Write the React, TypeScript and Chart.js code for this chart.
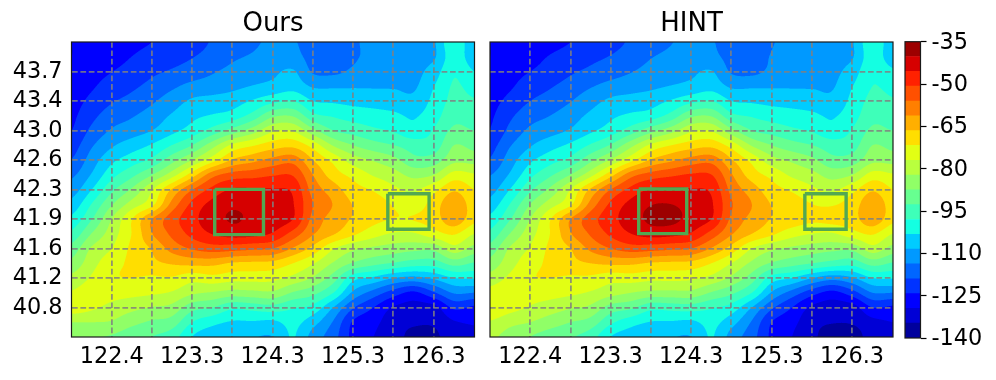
import React, { useEffect, useRef } from "react";
import { Chart, registerables } from "chart.js";

Chart.register(...registerables);

const FONT = "'DejaVu Sans'";

// Contour levels of the colour bar (dB) and the colour of each band between them
const levelsDb = [-140, -134.75, -129.5, -124.25, -119, -113.75, -108.5, -103.25, -98, -92.75, -87.5, -82.25, -77, -71.75, -66.5, -61.25, -56, -50.75, -45.5, -40.25, -35];
const bandColors = ["#00009d", "#0000d6", "#0000ff", "#0033ff", "#0066ff", "#0099ff", "#00ccff", "#14ffe2", "#3effb9", "#67ff90", "#90ff67", "#b9ff3e", "#e2ff14", "#ffde00", "#ffaf00", "#ff7f00", "#ff5000", "#ff2100", "#d60000", "#9d0000"];
const colorbarTicks = [-140, -125, -110, -95, -80, -65, -50, -35];

const xGridValues = [122.36, 122.85, 123.34, 123.83, 124.32, 124.81, 125.3, 125.79, 126.28];
const xGridLabels = ["122.4", "", "123.3", "", "124.3", "", "125.3", "", "126.3"];
const yGridValues = [43.72, 43.36, 43.0, 42.64, 42.28, 41.92, 41.56, 41.2, 40.84];
const yGridLabels = ["43.7", "43.4", "43.0", "42.6", "42.3", "41.9", "41.6", "41.2", "40.8"];

const lonNodes = [121.87, 122.11, 122.36, 122.6, 122.85, 123.09, 123.34, 123.59, 123.83, 124.08, 124.32, 124.57, 124.81, 125.06, 125.3, 125.55, 125.8, 126.04, 126.29, 126.53, 126.78];
const latNodes = [44.08, 43.9, 43.72, 43.54, 43.36, 43.18, 43.0, 42.82, 42.64, 42.46, 42.28, 42.1, 41.92, 41.74, 41.56, 41.38, 41.2, 41.02, 40.84, 40.66, 40.48];

// Field, expressed as a position on the contour-level ladder (0 = -140, 20 = -35)
const oursField = [
  [2.0,2.2,2.45,2.7,3.0,3.3,3.55,4.1,4.5,4.85,5.15,5.05,4.75,4.6,4.9,5.2,5.35,5.5,5.9,7.9,6.0],
  [2.0,2.3,2.7,3.0,3.4,3.65,3.95,4.4,4.85,5.1,5.4,5.3,4.7,4.55,4.9,5.2,5.4,5.6,5.9,7.6,6.3],
  [2.1,2.55,2.98,3.3,3.8,4.1,4.45,4.9,5.25,5.5,5.8,6.1,4.9,4.8,5.15,5.35,5.5,5.65,6.5,7.9,7.0],
  [2.3,2.85,3.45,3.8,4.3,4.8,5.3,5.5,5.75,6.05,6.3,6.6,5.9,5.85,5.9,5.9,5.9,5.85,7.0,8.1,7.6],
  [2.6,3.25,3.9,4.3,4.85,5.5,6.15,6.35,6.55,7.1,7.7,8.0,7.0,6.85,6.7,6.6,6.5,6.3,7.3,8.3,8.1],
  [2.8,3.7,4.5,4.9,5.45,6.1,6.75,7.1,7.45,8.4,9.8,9.9,8.3,7.9,7.6,7.4,7.2,6.9,7.6,8.7,8.5],
  [3.0,4.2,5.1,5.5,6.0,6.7,7.45,8.4,9.4,10.5,11.8,11.9,10.3,9.0,8.6,8.2,7.9,7.3,8.1,9.2,9.0],
  [3.5,4.85,5.85,6.5,7.1,8.0,9.0,10.6,12.2,12.9,13.5,13.7,12.6,10.9,10.0,9.4,9.0,8.55,8.5,10.0,9.7],
  [4.05,5.45,6.75,7.5,8.2,9.6,11.0,12.6,14.1,14.7,15.3,15.6,14.0,12.7,11.5,10.9,10.3,9.3,9.5,10.7,10.6],
  [4.8,6.05,7.65,8.7,9.95,11.5,13.5,15.6,16.4,16.6,16.9,16.9,15.0,13.5,12.7,11.9,11.4,10.7,11.0,12.4,12.1],
  [5.5,6.95,8.75,10.1,11.9,14.05,15.95,17.3,18.1,18.1,18.05,17.8,15.6,14.5,13.4,12.9,12.2,11.85,12.7,13.85,13.0],
  [6.35,8.0,9.9,11.4,12.7,15.3,17.25,18.3,18.8,18.65,18.6,18.05,16.0,14.95,13.95,13.5,12.9,12.4,13.5,14.7,13.5],
  [7.25,8.9,11.0,12.9,15.0,16.5,17.7,18.55,19.1,18.8,18.6,18.0,15.7,14.6,13.9,13.3,12.97,13.05,13.5,14.7,13.3],
  [8.25,10.0,11.5,13.0,14.95,16.2,17.3,18.05,18.4,18.3,17.9,16.6,15.1,14.1,13.2,12.4,11.9,11.9,12.6,13.1,12.0],
  [9.4,11.1,12.0,13.2,14.1,15.35,16.1,16.5,16.4,16.2,16.0,14.9,13.7,12.1,11.2,10.8,10.5,10.3,10.3,11.6,10.6],
  [10.3,11.6,12.6,13.2,13.75,14.1,14.3,14.3,13.9,13.8,13.7,13.0,12.1,10.9,9.9,9.3,8.9,8.5,8.5,9.4,8.9],
  [11.3,12.1,12.85,13.0,12.85,12.9,12.4,12.65,12.4,12.4,12.3,11.7,10.9,9.5,7.4,6.8,6.0,5.7,6.2,7.0,7.1],
  [12.1,12.5,12.4,12.3,12.15,11.9,11.2,10.9,10.6,10.7,10.8,9.9,9.3,8.0,5.8,4.6,3.5,2.8,3.9,5.1,5.0],
  [12.6,12.2,11.7,11.3,10.95,10.7,9.4,9.0,8.2,8.4,8.6,8.1,7.7,6.0,4.1,3.0,1.9,1.6,1.7,3.2,2.8],
  [11.0,11.0,10.9,10.3,9.85,9.55,8.0,7.3,6.9,6.9,6.8,7.3,6.4,4.9,2.9,2.3,1.4,1.15,1.15,1.9,2.1],
  [10.5,10.1,9.9,9.4,9.0,8.5,7.0,6.4,6.2,6.05,6.0,7.05,5.6,4.4,2.7,2.0,1.4,0.7,0.8,1.6,1.8],
];

const hintField = [
  [2.0,2.2,2.45,2.7,3.0,3.35,3.65,4.15,4.6,4.97,5.2,5.05,4.7,4.55,4.95,5.2,5.35,5.5,5.95,7.8,6.2],
  [2.0,2.3,2.7,3.05,3.4,3.75,4.05,4.5,4.95,5.2,5.4,5.25,4.7,4.55,5.05,5.25,5.4,5.6,5.95,7.6,6.3],
  [2.1,2.6,3.0,3.35,3.85,4.2,4.55,4.95,5.3,5.5,5.8,6.05,4.9,4.75,5.2,5.35,5.5,5.7,6.5,7.9,7.2],
  [2.3,2.85,3.5,3.9,4.4,4.9,5.35,5.6,5.8,6.05,6.3,6.6,5.85,5.85,5.9,5.9,5.9,5.9,7.0,8.0,7.7],
  [2.65,3.3,4.0,4.4,4.95,5.6,6.2,6.4,6.6,7.1,7.7,8.0,7.0,6.85,6.7,6.6,6.5,6.3,7.3,8.3,8.1],
  [2.85,3.8,4.6,5.0,5.55,6.2,6.8,7.2,7.5,8.4,9.8,9.9,8.3,7.9,7.6,7.4,7.2,6.9,7.6,8.7,8.5],
  [3.05,4.25,5.2,5.6,6.1,6.8,7.5,8.5,9.6,10.6,11.8,11.9,10.3,9.0,8.6,8.2,7.9,7.3,8.1,9.2,9.0],
  [3.6,4.9,5.9,6.6,7.2,8.1,9.1,10.7,12.2,13.0,13.5,13.7,12.6,10.9,10.0,9.4,9.0,8.5,8.6,10.0,9.7],
  [4.1,5.5,6.8,7.6,8.3,9.7,11.1,12.7,14.1,14.8,15.4,15.6,14.1,12.7,11.4,10.8,10.2,9.3,9.5,10.7,10.6],
  [4.95,6.1,7.7,8.8,10.0,11.6,13.6,15.6,16.4,16.8,17.1,17.0,15.1,13.5,12.7,11.8,11.3,10.6,11.0,12.4,12.1],
  [5.6,7.0,8.8,10.2,12.0,14.1,16.0,17.3,18.1,18.2,18.05,17.8,15.7,14.5,13.4,12.85,12.2,11.8,12.7,13.85,13.0],
  [6.4,8.0,10.0,11.5,12.8,15.3,17.2,18.3,18.95,19.0,18.6,18.1,16.1,15.0,13.95,13.5,13.0,12.9,13.5,14.7,13.5],
  [7.3,8.9,11.0,12.9,15.0,16.5,17.65,18.5,19.2,19.25,18.65,18.0,15.8,14.7,13.95,13.6,13.2,13.4,13.6,14.7,13.3],
  [8.3,10.0,11.6,13.0,14.9,16.1,17.2,18.0,18.4,18.3,17.9,16.6,15.1,14.0,13.2,12.4,12.0,11.9,12.6,13.1,12.0],
  [9.4,11.1,12.1,13.2,14.0,15.2,16.0,16.5,16.4,16.2,16.0,14.9,13.6,12.0,11.2,10.8,10.5,10.3,10.3,11.6,10.6],
  [10.4,11.6,12.6,13.2,13.7,14.0,14.2,14.2,13.9,13.8,13.7,13.0,12.0,10.8,9.9,9.4,9.0,8.6,8.4,9.4,8.9],
  [11.4,12.2,12.9,13.0,12.85,12.8,12.4,12.5,12.3,12.3,12.2,11.7,10.8,9.5,7.6,7.0,6.0,5.4,5.9,7.0,7.1],
  [12.4,12.8,12.5,12.4,12.2,11.9,11.4,11.0,10.7,10.7,10.7,9.9,9.2,8.0,5.9,4.6,3.4,2.7,3.6,5.0,5.0],
  [12.9,12.4,11.9,11.5,11.1,10.8,9.6,9.2,8.3,8.4,8.5,8.1,7.6,6.0,4.2,3.0,1.8,1.5,1.6,3.0,2.8],
  [11.9,11.3,11.0,10.5,10.0,9.6,8.2,7.4,6.95,6.9,6.8,7.3,6.4,4.9,3.0,2.3,1.3,1.05,1.1,1.7,2.0],
  [11.2,10.6,10.0,9.5,9.1,8.5,7.0,6.5,6.2,6.05,6.0,7.05,5.6,4.4,2.8,2.0,1.2,0.5,0.5,1.5,1.8],
];

// Green boxes: [lonWest, lonEast, latNorth, latSouth]
const oursBoxes = [
  [123.615, 124.209, 42.282, 41.729],
  [125.724, 126.227, 42.229, 41.795],
];
const hintBoxes = [
  [123.682, 124.267, 42.286, 41.741],
  [125.706, 126.209, 42.229, 41.795],
];

const hexToRgb = (h: string) => [parseInt(h.slice(1, 3), 16), parseInt(h.slice(3, 5), 16), parseInt(h.slice(5, 7), 16)];
const bandRgb = bandColors.map(hexToRgb);

const dbFromLadder = (p: number) => {
  const i = Math.min(levelsDb.length - 2, Math.floor(p));
  return levelsDb[i] + (p - i) * (levelsDb[i + 1] - levelsDb[i]);
};

function bandOf(v: number) {
  let lo = 0;
  let hi = levelsDb.length - 1;
  while (hi - lo > 1) {
    const m = (lo + hi) >> 1;
    if (v >= levelsDb[m]) lo = m;
    else hi = m;
  }
  return lo;
}

function nodePoints(field: number[][]) {
  const pts: { x: number; y: number; v: number }[] = [];
  latNodes.forEach((lat, r) => lonNodes.forEach((lon, c) => pts.push({ x: lon, y: lat, v: dbFromLadder(field[r][c]) })));
  return pts;
}

const SS = 3;

const catmull = (t: number) => {
  const t2 = t * t;
  const t3 = t2 * t;
  return [
    0.5 * (-t3 + 2 * t2 - t),
    0.5 * (3 * t3 - 5 * t2 + 2),
    0.5 * (-3 * t3 + 4 * t2 + t),
    0.5 * (t3 - t2),
  ];
};

const contourPlugin = {
  id: "contourFill",
  beforeDraw(chart: any) {
    const pts = chart.data.datasets[0].data;
    const nc = lonNodes.length;
    const nr = latNodes.length;
    const { left, top, right, bottom } = chart.chartArea;
    const x0 = Math.floor(left);
    const y0 = Math.floor(top);
    const w = Math.ceil(right) - x0;
    const h = Math.ceil(bottom) - y0;
    const sx = chart.scales.x;
    const sy = chart.scales.y;
    const clampInt = (i: number, n: number) => Math.max(0, Math.min(n - 1, i));
    const cols: { idx: number[]; wt: number[] }[] = [];
    for (let i = 0; i < w * SS; i++) {
      const lon = sx.getValueForPixel(x0 + (i + 0.5) / SS);
      let c = 0;
      while (c < nc - 2 && lon > lonNodes[c + 1]) c++;
      const f = Math.max(0, Math.min(1, (lon - lonNodes[c]) / (lonNodes[c + 1] - lonNodes[c])));
      cols.push({ idx: [clampInt(c - 1, nc), c, c + 1, clampInt(c + 2, nc)], wt: catmull(f) });
    }
    const rows: { idx: number[]; wt: number[] }[] = [];
    for (let i = 0; i < h * SS; i++) {
      const lat = sy.getValueForPixel(y0 + (i + 0.5) / SS);
      let r = 0;
      while (r < nr - 2 && lat < latNodes[r + 1]) r++;
      const f = Math.max(0, Math.min(1, (latNodes[r] - lat) / (latNodes[r] - latNodes[r + 1])));
      rows.push({ idx: [clampInt(r - 1, nr), r, r + 1, clampInt(r + 2, nr)], wt: catmull(f) });
    }
    const img = new ImageData(w, h);
    for (let py = 0; py < h; py++) {
      for (let px = 0; px < w; px++) {
        let R = 0, G = 0, B = 0;
        for (let a = 0; a < SS; a++) {
          const row = rows[py * SS + a];
          for (let b = 0; b < SS; b++) {
            const col = cols[px * SS + b];
            let v = 0;
            for (let m = 0; m < 4; m++) {
              const base = row.idx[m] * nc;
              let s = 0;
              for (let n = 0; n < 4; n++) s += pts[base + col.idx[n]].v * col.wt[n];
              v += s * row.wt[m];
            }
            const rgb = bandRgb[bandOf(v)];
            R += rgb[0]; G += rgb[1]; B += rgb[2];
          }
        }
        const k = (py * w + px) * 4;
        const n = SS * SS;
        img.data[k] = R / n; img.data[k + 1] = G / n; img.data[k + 2] = B / n; img.data[k + 3] = 255;
      }
    }
    chart.ctx.putImageData(img, x0, y0);
  },
};

const framePlugin = {
  id: "frame",
  afterDraw(chart: any) {
    const { left, top, right, bottom } = chart.chartArea;
    const ctx = chart.ctx;
    ctx.save();
    ctx.strokeStyle = "#1a1a1a";
    ctx.lineWidth = 1.2;
    ctx.strokeRect(left, top, right - left, bottom - top);
    ctx.restore();
  },
};

function panelConfig(title: string, field: number[][], boxes: number[][], axisLeft: number, showY: boolean): any {
  const boxSets = boxes.map(([w, e, n, s]) => ({
    type: "scatter",
    data: [{ x: w, y: n }, { x: e, y: n }, { x: e, y: s }, { x: w, y: s }, { x: w, y: n }],
    showLine: true,
    borderColor: "#52a852",
    borderWidth: 3.4,
    pointRadius: 0,
    borderJoinStyle: "miter",
    tension: 0,
  }));
  const grid = { color: "rgba(128,128,128,0.85)", lineWidth: 1.8, drawTicks: false };
  const border = { display: false, dash: [5.7, 2.7] };
  return {
    type: "scatter",
    data: {
      datasets: [{ label: title, data: nodePoints(field), pointRadius: 0, showLine: false }, ...boxSets],
    },
    options: {
      responsive: false,
      animation: false,
      devicePixelRatio: 1,
      events: [],
      layout: { autoPadding: false, padding: { left: 0, right: 996 - axisLeft - 403, top: 8.4, bottom: 0 } },
      plugins: {
        legend: { display: false },
        tooltip: { enabled: false },
        title: {
          display: true,
          text: title,
          fullSize: false,
          color: "#000",
          font: { family: FONT, size: 26, weight: "normal", lineHeight: 1.2 },
          padding: { top: 0, bottom: 2.4 },
        },
      },
      scales: {
        x: {
          type: "linear",
          min: lonNodes[0],
          max: lonNodes[lonNodes.length - 1],
          grid,
          border,
          afterFit: (axis: any) => { axis.height = 43; },
          afterBuildTicks: (axis: any) => { axis.ticks = xGridValues.map((value) => ({ value })); },
          ticks: {
            autoSkip: false,
            maxRotation: 0,
            padding: 7,
            color: "#000",
            font: { family: FONT, size: 22.4 },
            callback: (_v: any, i: number) => xGridLabels[i],
          },
        },
        y: {
          type: "linear",
          min: latNodes[latNodes.length - 1],
          max: latNodes[0],
          grid,
          border,
          afterFit: (axis: any) => { axis.width = axisLeft; },
          afterBuildTicks: (axis: any) => { axis.ticks = yGridValues.map((value) => ({ value })); },
          ticks: {
            display: showY,
            autoSkip: false,
            padding: 9,
            labelOffset: 0.5,
            color: "#000",
            font: { family: FONT, size: 22.4 },
            callback: (_v: any, i: number) => yGridLabels[i],
          },
        },
      },
    },
    plugins: [contourPlugin, framePlugin],
  };
}

function colorbarConfig(): any {
  return {
    type: "bar",
    data: {
      labels: ["dB"],
      datasets: bandColors.map((c, i) => ({
        data: [[levelsDb[i], levelsDb[i + 1]]],
        backgroundColor: c,
        borderWidth: 0,
        grouped: false,
        barPercentage: 1,
        categoryPercentage: 1,
      })),
    },
    options: {
      responsive: false,
      animation: false,
      devicePixelRatio: 1,
      events: [],
      layout: { autoPadding: false, padding: { left: 905, right: 0, top: 41.7, bottom: 42 } },
      plugins: { legend: { display: false }, tooltip: { enabled: false }, title: { display: false } },
      scales: {
        x: { display: false },
        y: {
          position: "right",
          min: -140,
          max: -35,
          afterFit: (axis: any) => { axis.width = 75.5; },
          afterBuildTicks: (axis: any) => { axis.ticks = colorbarTicks.map((value) => ({ value })); },
          grid: { drawOnChartArea: false, tickLength: 6, tickColor: "#000", tickWidth: 1.2 },
          border: { display: false },
          ticks: {
            autoSkip: false,
            padding: 5,
            labelOffset: 1.3,
            color: "#000",
            font: { family: FONT, size: 22.4 },
            callback: (v: number) => String(v),
          },
        },
      },
    },
    plugins: [framePlugin],
  };
}

export default function App() {
  const a = useRef<HTMLCanvasElement>(null);
  const b = useRef<HTMLCanvasElement>(null);
  const c = useRef<HTMLCanvasElement>(null);
  useEffect(() => {
    const charts = [
      new Chart(a.current!, panelConfig("Ours", oursField, oursBoxes, 71.5, true)),
      new Chart(b.current!, panelConfig("HINT", hintField, hintBoxes, 490, false)),
      new Chart(c.current!, colorbarConfig()),
    ];
    return () => charts.forEach((ch) => ch.destroy());
  }, []);
  const style: React.CSSProperties = { position: "absolute", left: 0, top: 0 };
  return (
    <div style={{ position: "fixed", left: 0, top: 0, width: 996, height: 380, background: "#fff", overflow: "hidden" }}>
      <canvas ref={a} width={996} height={380} style={style} />
      <canvas ref={b} width={996} height={380} style={style} />
      <canvas ref={c} width={996} height={380} style={style} />
    </div>
  );
}
